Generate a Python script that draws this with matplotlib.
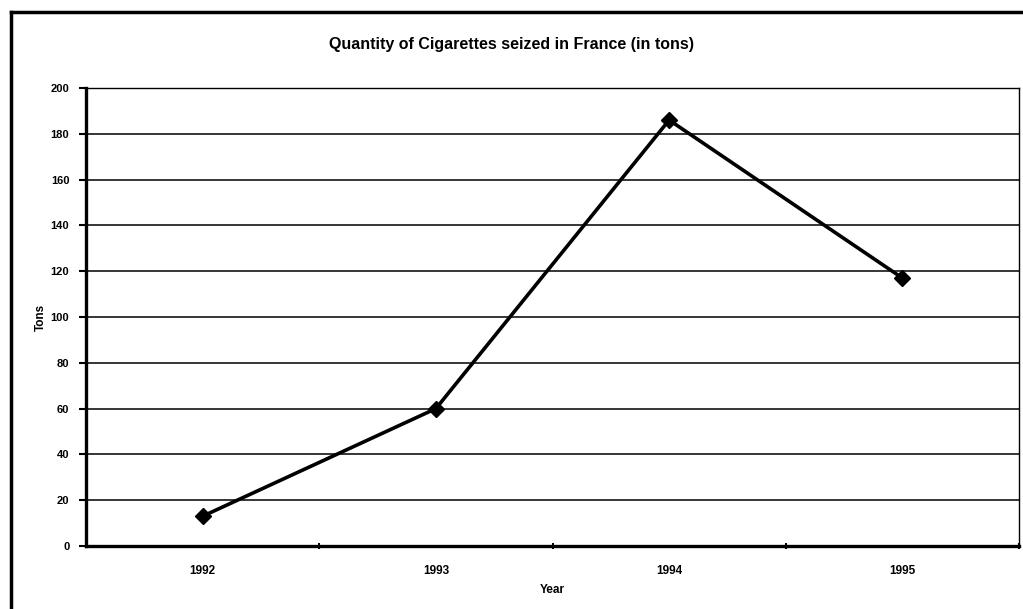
import matplotlib
matplotlib.use("Agg")
import matplotlib.pyplot as plt
from matplotlib.lines import Line2D

years = ["1992", "1993", "1994", "1995"]
tons = [13, 60, 186, 117]
y_ticks = [0, 20, 40, 60, 80, 100, 120, 140, 160, 180, 200]

plt.rcParams['font.family'] = ['Liberation Sans', 'DejaVu Sans']

fig = plt.figure(figsize=(10.23, 6.09), dpi=100)
ax = fig.add_axes([86/1023, 1 - 546/609, (1019-86)/1023, (546-88)/609])

x = list(range(len(years)))
ax.plot(x, tons, color='black', lw=2.6, marker='D', markersize=8, zorder=3)

ax.set_xlim(-0.5, len(years) - 0.5)
ax.set_ylim(0, 200)
ax.set_yticks(y_ticks)
ax.set_yticklabels([str(v) for v in y_ticks], fontsize=8, fontweight='bold')
ax.set_xticks(x)
ax.set_xticklabels(years, fontsize=8.5, fontweight='bold')
ax.set_xticks([i + 0.5 for i in range(len(years))], minor=True)
ax.tick_params(axis='x', which='major', length=0, pad=14)
ax.tick_params(axis='x', which='minor', length=5, width=1.5, direction='inout')
ax.tick_params(axis='y', which='major', length=5, width=1.5, direction='out', pad=7)

ax.yaxis.grid(True, color='black', lw=1.1)
ax.set_axisbelow(True)

for s in ['left', 'bottom']:
    ax.spines[s].set_linewidth(2.4)
for s in ['top', 'right']:
    ax.spines[s].set_linewidth(1.0)

ax.set_ylabel("Tons", fontsize=8.5, fontweight='bold', labelpad=3)
ax.set_xlabel("Year", fontsize=8.5, fontweight='bold', labelpad=5)

fig.text(0.5, 1 - 45/609, "Quantity of Cigarettes seized in France (in tons)",
         ha='center', va='center', fontsize=11.5, fontweight='bold')

# outer frame (scanned page border)
fig.add_artist(Line2D([11/1023, 11/1023], [0, 1 - 12/609], color='black', lw=2.5,
                      transform=fig.transFigure))
fig.add_artist(Line2D([11/1023, 1], [1 - 12/609, 1 - 12/609], color='black', lw=2.5,
                      transform=fig.transFigure))

fig.savefig("out.png", dpi=100)
